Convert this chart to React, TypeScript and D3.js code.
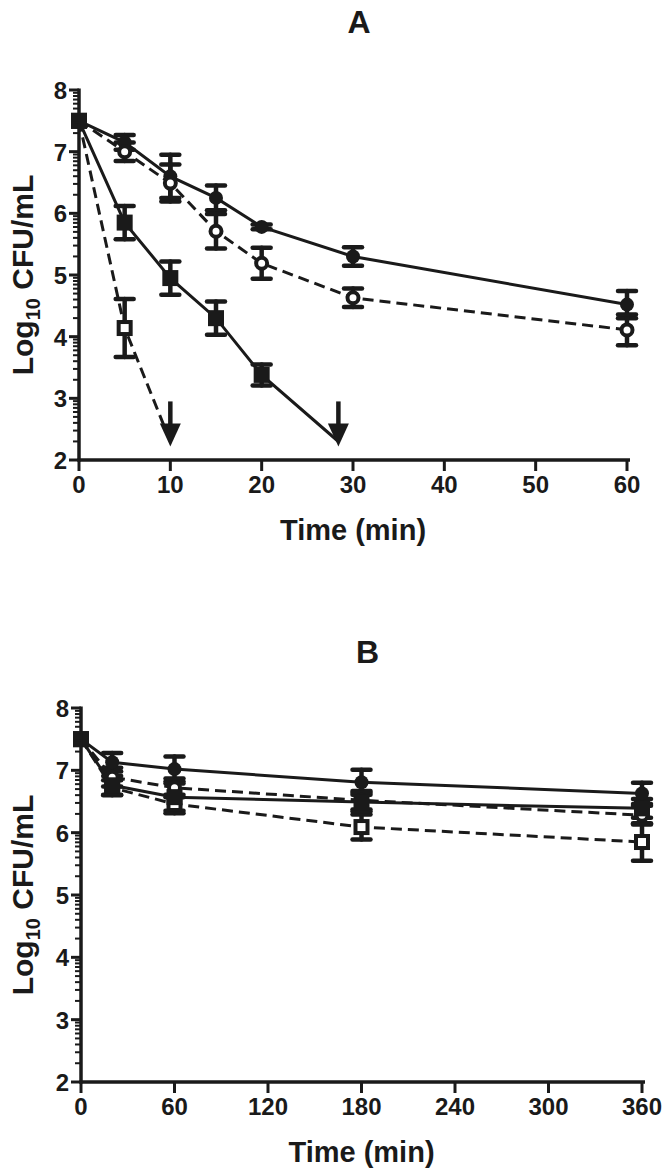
import React from 'react';
import * as d3 from 'd3';

// ---------- Panel A data ----------
const timesA = [0, 5, 10, 15, 20, 30, 60];
const filledCircleA = [7.5, 7.15, 6.6, 6.25, 5.78, 5.3, 4.52];
const filledCircleAErr = [0, 0.12, 0.35, 0.2, 0.04, 0.15, 0.22];
const openCircleA = [7.5, 7.0, 6.49, 5.71, 5.19, 4.63, 4.11];
const openCircleAErr = [0, 0.15, 0.3, 0.28, 0.25, 0.15, 0.25];
const timesFilledSquareA = [0, 5, 10, 15, 20];
const filledSquareA = [7.5, 5.85, 4.95, 4.3, 3.38];
const filledSquareAErr = [0, 0.27, 0.27, 0.27, 0.17];
const timesOpenSquareA = [0, 5];
const openSquareA = [7.5, 4.14];
const openSquareAErr = [0, 0.47];
// arrows: below detection limit
const arrowTimesA = [10, 28.4];
const arrowTop = 2.95;
const arrowTip = 2.22;
const xTicksA = [0, 10, 20, 30, 40, 50, 60];

// ---------- Panel B data ----------
const timesB = [0, 20, 60, 180, 360];
const filledCircleB = [7.5, 7.13, 7.02, 6.81, 6.63];
const filledCircleBErr = [0, 0.15, 0.2, 0.2, 0.17];
const filledSquareB = [7.5, 6.76, 6.57, 6.49, 6.39];
const filledSquareBErr = [0, 0.15, 0.22, 0.15, 0.15];
const openCircleB = [7.5, 6.89, 6.72, 6.52, 6.28];
const openCircleBErr = [0, 0.15, 0.15, 0.15, 0.15];
const openSquareB = [7.5, 6.72, 6.46, 6.09, 5.85];
const openSquareBErr = [0, 0.12, 0.15, 0.2, 0.3];
const xTicksB = [0, 60, 120, 180, 240, 300, 360];

const yTicks = [2, 3, 4, 5, 6, 7, 8];

const FONT = '"Liberation Sans", Arial, Helvetica, sans-serif';
const INK = '#1a1a1a';

type Series = {
  t: number[];
  v: number[];
  e: number[];
  marker: 'fc' | 'oc' | 'fs' | 'os';
  dashed: boolean;
  tail?: [number, number];
};

function Panel({
  title,
  top,
  xDomain,
  xRange,
  yRange,
  xTicks,
  series,
  arrows,
}: {
  title: string;
  top: number;
  xDomain: [number, number];
  xRange: [number, number];
  yRange: [number, number];
  xTicks: number[];
  series: Series[];
  arrows?: number[];
}) {
  const x = d3.scaleLinear().domain(xDomain).range(xRange);
  const y = d3.scaleLinear().domain([2, 8]).range(yRange);
  const x0 = xRange[0];
  const yb = yRange[0];
  const line = d3
    .line<[number, number]>()
    .x((d) => x(d[0]))
    .y((d) => y(d[1]));

  const minor: number[] = [];
  for (let n = 2; n < 8; n++) {
    for (let k = 2; k <= 9; k++) minor.push(n + Math.log10(k));
  }

  const sq = 16;
  const r = 7;
  const cap = 9;

  const marker = (m: Series['marker'], cx: number, cy: number, key: string) => {
    if (m === 'fc') return <circle key={key} cx={cx} cy={cy} r={r} fill={INK} />;
    if (m === 'oc')
      return <circle key={key} cx={cx} cy={cy} r={r - 1.5} fill="#fff" stroke={INK} strokeWidth={4} />;
    if (m === 'fs')
      return <rect key={key} x={cx - sq / 2} y={cy - sq / 2} width={sq} height={sq} fill={INK} />;
    return (
      <rect
        key={key}
        x={cx - sq / 2 + 2}
        y={cy - sq / 2 + 2}
        width={sq - 4}
        height={sq - 4}
        fill="#fff"
        stroke={INK}
        strokeWidth={4}
      />
    );
  };

  return (
    <g>
      <text
        x={(xRange[0] + xRange[1]) / 2 + 6}
        y={top}
        textAnchor="middle"
        fontFamily={FONT}
        fontWeight="bold"
        fontSize={32}
        fill={INK}
      >
        {title}
      </text>

      {/* lines */}
      {series.map((s, i) => {
        const pts: [number, number][] = s.t.map((t, j) => [t, s.v[j]]);
        if (s.tail) pts.push(s.tail);
        return (
          <path
            key={'l' + i}
            d={line(pts) || ''}
            fill="none"
            stroke={INK}
            strokeWidth={3}
            strokeDasharray={s.dashed ? '11,6' : undefined}
          />
        );
      })}

      {/* arrows */}
      {(arrows || []).map((t, i) => (
        <g key={'a' + i}>
          <line x1={x(t)} x2={x(t)} y1={y(arrowTop)} y2={y(arrowTip) - 12} stroke={INK} strokeWidth={4.5} />
          <path
            d={`M${x(t) - 10.5},${y(arrowTip) - 23} L${x(t) + 10.5},${y(arrowTip) - 23} L${x(t)},${y(arrowTip)} Z`}
            fill={INK}
          />
        </g>
      ))}

      {/* error bars */}
      {series.map((s, i) =>
        s.t.map((t, j) =>
          s.e[j] > 0 ? (
            <g key={'e' + i + '-' + j} stroke={INK} strokeWidth={4.5} strokeLinecap="round">
              <line x1={x(t)} x2={x(t)} y1={y(s.v[j] + s.e[j])} y2={y(s.v[j] - s.e[j])} />
              <line x1={x(t) - cap} x2={x(t) + cap} y1={y(s.v[j] + s.e[j])} y2={y(s.v[j] + s.e[j])} />
              <line x1={x(t) - cap} x2={x(t) + cap} y1={y(s.v[j] - s.e[j])} y2={y(s.v[j] - s.e[j])} />
            </g>
          ) : null
        )
      )}

      {/* markers */}
      {series.map((s, i) => s.t.map((t, j) => marker(s.marker, x(t), y(s.v[j]), 'm' + i + '-' + j)))}

      {/* axes */}
      <line x1={x0} x2={x0} y1={yb + 1.5} y2={y(8) - 1.5} stroke={INK} strokeWidth={3.5} />
      <line x1={x0 - 1.5} x2={xRange[1] + 3} y1={yb} y2={yb} stroke={INK} strokeWidth={3.5} />
      {yTicks.map((v) => (
        <g key={'yt' + v}>
          <line x1={x0 - 10} x2={x0} y1={y(v)} y2={y(v)} stroke={INK} strokeWidth={3} />
          <text
            x={x0 - 12}
            y={y(v) + 9}
            textAnchor="end"
            fontFamily={FONT}
            fontWeight="bold"
            fontSize={24}
            fill={INK}
          >
            {v}
          </text>
        </g>
      ))}
      {minor.map((v, i) => (
        <line key={'mt' + i} x1={x0 - 6} x2={x0} y1={y(v)} y2={y(v)} stroke={INK} strokeWidth={2} />
      ))}
      {xTicks.map((v) => (
        <g key={'xt' + v}>
          <line x1={x(v)} x2={x(v)} y1={yb} y2={yb + 11} stroke={INK} strokeWidth={3} />
          <text
            x={x(v)}
            y={yb + 33}
            textAnchor="middle"
            fontFamily={FONT}
            fontWeight="bold"
            fontSize={24}
            fill={INK}
          >
            {v}
          </text>
        </g>
      ))}
      <text
        x={(xRange[0] + xRange[1]) / 2}
        y={yb + 80}
        textAnchor="middle"
        fontFamily={FONT}
        fontWeight="bold"
        fontSize={29}
        fill={INK}
      >
        Time (min)
      </text>
      <text
        transform={`translate(33,${(yRange[0] + yRange[1]) / 2}) rotate(-90)`}
        textAnchor="middle"
        fontFamily={FONT}
        fontWeight="bold"
        fontSize={30}
        fill={INK}
      >
        Log
        <tspan fontSize={20} dy={7}>
          10
        </tspan>
        <tspan dy={-7}> CFU/mL</tspan>
      </text>
    </g>
  );
}

export default function App() {
  const seriesA: Series[] = [
    { t: timesA, v: filledCircleA, e: filledCircleAErr, marker: 'fc', dashed: false },
    { t: timesA, v: openCircleA, e: openCircleAErr, marker: 'oc', dashed: true },
    {
      t: timesOpenSquareA,
      v: openSquareA,
      e: openSquareAErr,
      marker: 'os',
      dashed: true,
      tail: [arrowTimesA[0], 2.3],
    },
    {
      t: timesFilledSquareA,
      v: filledSquareA,
      e: filledSquareAErr,
      marker: 'fs',
      dashed: false,
      tail: [arrowTimesA[1], 2.3],
    },
  ];
  const seriesB: Series[] = [
    { t: timesB, v: filledCircleB, e: filledCircleBErr, marker: 'fc', dashed: false },
    { t: timesB, v: openCircleB, e: openCircleBErr, marker: 'oc', dashed: true },
    { t: timesB, v: openSquareB, e: openSquareBErr, marker: 'os', dashed: true },
    { t: timesB, v: filledSquareB, e: filledSquareBErr, marker: 'fs', dashed: false },
  ];
  return (
    <svg
      width={670}
      height={1175}
      style={{ position: 'absolute', left: 0, top: 0, background: '#fff' }}
    >
      <rect width={670} height={1175} fill="#fff" />
      <Panel
        title="A"
        top={33}
        xDomain={[0, 60]}
        xRange={[79, 627]}
        yRange={[460, 90]}
        xTicks={xTicksA}
        series={seriesA}
        arrows={arrowTimesA}
      />
      <Panel
        title="B"
        top={663}
        xDomain={[0, 360]}
        xRange={[81, 642]}
        yRange={[1082, 708]}
        xTicks={xTicksB}
        series={seriesB}
      />
    </svg>
  );
}
